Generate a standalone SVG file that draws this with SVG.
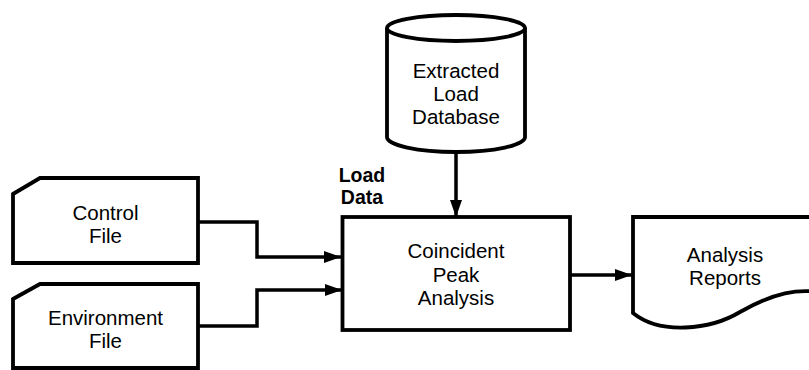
<svg xmlns="http://www.w3.org/2000/svg" width="809" height="370" viewBox="0 0 809 370">
<style>
.s{fill:#fff;stroke:#000;stroke-width:3.8;stroke-linejoin:miter}
.c{fill:none;stroke:#000;stroke-width:3.5}
.t{font-family:"Liberation Sans",Arial,sans-serif;font-size:20.5px;fill:#000;text-anchor:middle}
.b{font-family:"Liberation Sans",Arial,sans-serif;font-size:19.5px;font-weight:bold;fill:#000;text-anchor:middle}
</style>
<defs>
<marker id="ah" viewBox="0 0 17 12" refX="17" refY="6" markerWidth="17" markerHeight="12" markerUnits="userSpaceOnUse" orient="auto">
<path d="M0,0 L17,6 L0,12 Z" fill="#000"/>
</marker>
</defs>
<rect width="809" height="370" fill="#fff"/>
<g id="connectors">
<path class="c" d="M198,222 H257 V257 H341" marker-end="url(#ah)"/>
<path class="c" d="M198,326 H257 V290 H342" marker-end="url(#ah)"/>
<path class="c" d="M456,152 V217" marker-end="url(#ah)"/>
<path class="c" d="M570,275 H632" marker-end="url(#ah)"/>
</g>
<g id="control-file">
<path class="s" d="M13,194 L40,178 H198 V263 H13 Z"/>
<text class="t" x="105.5" y="220">Control</text>
<text class="t" x="105.5" y="243">File</text>
</g>
<g id="environment-file">
<path class="s" d="M13,299 L40,284 H198 V368 H13 Z"/>
<text class="t" x="105.5" y="325">Environment</text>
<text class="t" x="105.5" y="348">File</text>
</g>
<g id="database">
<path class="s" d="M387,28 V137 A69,15 0 0 0 525,137 V28"/>
<ellipse class="s" cx="456" cy="28" rx="69" ry="13"/>
<text class="t" x="456" y="78">Extracted</text>
<text class="t" x="456" y="101">Load</text>
<text class="t" x="456" y="124">Database</text>
</g>
<g id="load-data-label">
<text class="b" x="362" y="182">Load</text>
<text class="b" x="362" y="204">Data</text>
</g>
<g id="analysis">
<rect class="s" x="342.5" y="217" width="227.5" height="113"/>
<text class="t" x="456" y="258">Coincident</text>
<text class="t" x="456" y="282">Peak</text>
<text class="t" x="456" y="305">Analysis</text>
</g>
<g id="reports">
<path class="s" d="M633,313 V217 H830 V295 C800,285 770,295 740,312 C710,330 660,335 633,313 Z"/>
<text class="t" x="725" y="262">Analysis</text>
<text class="t" x="725" y="285">Reports</text>
</g>
</svg>
